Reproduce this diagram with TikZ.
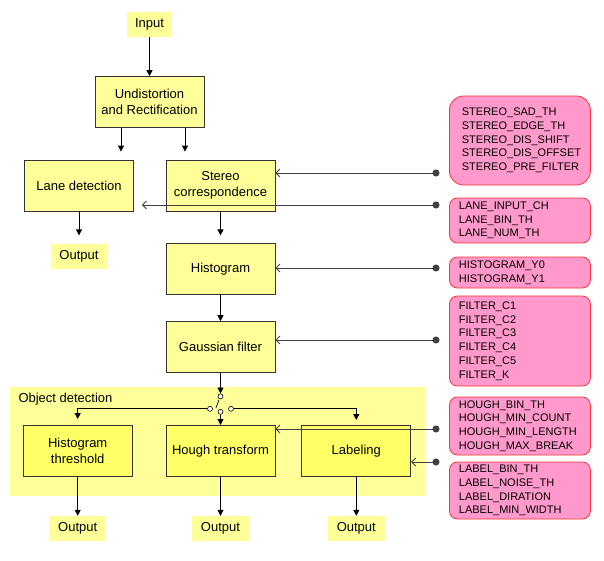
\documentclass[tikz,border=0pt]{standalone}
\usepackage{fontspec}
\setmainfont{Liberation Sans}
\usetikzlibrary{arrows.meta, positioning, backgrounds, calc}

\definecolor{boxyellow}{HTML}{FFFF99}
\definecolor{boxyellowdark}{HTML}{FFFF66}
\definecolor{groupyellow}{HTML}{FFFF99}
\definecolor{parampink}{HTML}{FF99CC}
\definecolor{paramred}{HTML}{FF3333}

\begin{document}
\begin{tikzpicture}[
    x=1pt, y=-1pt,
    box/.style={rectangle, draw=black!80, line width=0.8pt, fill=boxyellow, minimum width=109pt, minimum height=51pt, inner sep=2pt, align=center, font=\fontsize{13}{16}\selectfont},
    box_obj/.style={box, fill=boxyellowdark},
    term/.style={rectangle, fill=boxyellow, minimum width=57pt, minimum height=25pt, inner sep=2pt, font=\fontsize{13}{16}\selectfont},
    param/.style={rectangle, rounded corners=8pt, draw=paramred, line width=0.8pt, fill=parampink, anchor=west, align=left, inner xsep=9.5pt, inner ysep=0pt, text width=122pt, font=\fontsize{11}{13.7}\selectfont},
    pin/.style={circle, draw=black, fill=white, line width=0.6pt, inner sep=0pt, minimum size=5pt},
    arrow/.style={-{Triangle[length=6pt, width=6pt]}, line width=0.8pt},
    param_arrow/.style={{Circle[length=7pt]}-{Straight Barb[length=4pt, width=8pt]}, line width=0.8pt, black!75},
    group_label/.style={font=\fontsize{13}{16}\selectfont, inner sep=0pt}
]
\useasboundingbox (0,0) rectangle (604,560);

% --- Main chain ---
\node[term, minimum width=45pt] (input) at (149.5,24.5) {Input};
\node[box, below=39pt of input] (undist) {Undistortion\\and Rectification};
\node[box] (lane) at (79,185.5) {Lane detection};
\node[box] (stereo) at (220.5,185.5) {Stereo\\correspondence};
\node[term, below=32pt of lane] (out_lane) {Output};
\node[box, below=32pt of stereo] (hist) {Histogram};
\node[box, below=26pt of hist] (gauss) {Gaussian filter};

% --- Object detection ---
\node[box_obj, below=52pt of gauss] (hough) {Hough transform};
\node[box_obj, left=33pt of hough] (hthresh) {Histogram\\threshold};
\node[box_obj, right=26pt of hough] (labeling) {Labeling};
\node[term, below=39pt of hthresh] (out_hthresh) {Output};
\node[term, below=39pt of hough] (out_hough) {Output};
\node[term, below=39pt of labeling] (out_labeling) {Output};

\begin{scope}[on background layer]
\fill[groupyellow] ([xshift=-13pt, yshift=38pt]hthresh.north west) rectangle ([xshift=14pt, yshift=-19pt]labeling.south east);
\end{scope}
\node[group_label, anchor=west] (objdet) at ([xshift=-4.5pt, yshift=26pt]hthresh.north west) {Object detection};

% --- Switch ---
\node[pin, below=20.5pt of gauss] (sw_top) {};
\node[pin] (sw_bot) at ([yshift=-15.5pt]sw_top.center) {};
\node[pin] (sw_left) at ([xshift=-10.5pt, yshift=-12.5pt]sw_top.center) {};
\node[pin] (sw_right) at ([xshift=10.5pt, yshift=-12.5pt]sw_top.center) {};
\draw[line width=0.7pt] ([xshift=-1.5pt, yshift=-3.5pt]sw_top.center) -- ([xshift=-4.5pt, yshift=-11.5pt]sw_top.center);

% --- Parameters ---
\node[param, rounded corners=14pt, inner xsep=12.5pt, text width=116pt, minimum height=89pt] (p_stereo) at (449,140.5) {STEREO\_SAD\_TH\\STEREO\_EDGE\_TH\\STEREO\_DIS\_SHIFT\\STEREO\_DIS\_OFFSET\\STEREO\_PRE\_FILTER};
\node[param, minimum height=45pt] (p_lane) at (449,220.5) {LANE\_INPUT\_CH\\LANE\_BIN\_TH\\LANE\_NUM\_TH};
\node[param, minimum height=31pt] (p_hist) at (449,272.5) {HISTOGRAM\_Y0\\HISTOGRAM\_Y1};
\node[param, minimum height=90pt] (p_filter) at (449,341) {FILTER\_C1\\FILTER\_C2\\FILTER\_C3\\FILTER\_C4\\FILTER\_C5\\FILTER\_K};
\node[param, minimum height=58pt] (p_hough) at (449,426) {HOUGH\_BIN\_TH\\HOUGH\_MIN\_COUNT\\HOUGH\_MIN\_LENGTH\\HOUGH\_MAX\_BREAK};
\node[param, minimum height=57pt] (p_label) at (449,490.5) {LABEL\_BIN\_TH\\LABEL\_NOISE\_TH\\LABEL\_DIRATION\\LABEL\_MIN\_WIDTH};

\coordinate (d_stereo) at (439.5,173);
\coordinate (d_lane) at (439.5,205);
\coordinate (d_hist) at (439.5,268);
\coordinate (d_gauss) at (439.5,340);
\coordinate (d_hough) at (439.5,429);
\coordinate (d_label) at (439.5,462);

% --- Arrows ---
\coordinate (u_lane) at ([xshift=-28.5pt]undist.south);
\coordinate (u_stereo) at ([xshift=35.5pt]undist.south);
\draw[arrow] (input) -- (undist);
\draw[arrow, shorten >=8pt] (u_lane) -- (u_lane |- lane.north);
\draw[arrow, shorten >=8pt] (u_stereo) -- (u_stereo |- stereo.north);
\draw[arrow, shorten >=8pt] (lane) -- (out_lane);
\draw[arrow, shorten >=8pt] (stereo) -- (hist);
\draw[arrow] (hist) -- (gauss);
\draw[arrow] (gauss) -- (sw_top);
\draw[arrow] (sw_bot) -- (hough);
\draw[arrow, shorten >=6pt] (sw_left) -| (hthresh.north);
\draw[arrow, shorten >=5pt] (sw_right) -| (labeling.north);
\draw[arrow] (hthresh) -- (out_hthresh);
\draw[arrow] (hough) -- (out_hough);
\draw[arrow] (labeling) -- (out_labeling);

% Parameter inputs
\draw[param_arrow] (d_stereo) -- (stereo.east |- d_stereo);
\draw[param_arrow, shorten >=8pt] (d_lane) -- (lane.east |- d_lane);
\draw[param_arrow] (d_hist) -- (hist.east |- d_hist);
\draw[param_arrow] (d_gauss) -- (gauss.east |- d_gauss);
\draw[param_arrow] (d_hough) -- (hough.east |- d_hough);
\draw[param_arrow] (d_label) -- (labeling.east |- d_label);

\end{tikzpicture}
\end{document}
